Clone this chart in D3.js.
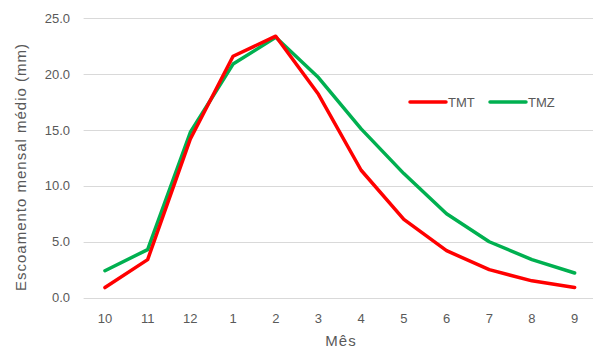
<!DOCTYPE html>
<html><head><meta charset="utf-8">
<script src="https://cdn.jsdelivr.net/npm/d3@7"></script>
<style>body{margin:0;background:#fff}svg{display:block}</style>
</head><body>
<script>
const months = ["10","11","12","1","2","3","4","5","6","7","8","9"];
const tmt = [0.9, 3.4, 14.2, 21.6, 23.4, 18.2, 11.4, 7.0, 4.2, 2.5, 1.5, 0.9];
const tmz = [2.4, 4.3, 14.8, 20.9, 23.3, 19.7, 15.1, 11.1, 7.5, 5.0, 3.4, 2.2];
const yTicks = [0, 5, 10, 15, 20, 25];
const seriesNames = ["TMT", "TMZ"];
const seriesColors = ["#ff0000", "#00b050"];

const W = 593, H = 351;
const font = "'Liberation Sans', Arial, sans-serif";
const svg = d3.select("body").append("svg").attr("width", W).attr("height", H);

const x = d3.scaleBand().domain(months).range([83.6, 596]);
const y = d3.scaleLinear().domain([0, 25]).range([297.6, 18.3]);

// grid
svg.append("g").selectAll("line").data(yTicks).join("line")
  .attr("x1", 83.6).attr("x2", W).attr("y1", d => Math.round(y(d)) + 0.5).attr("y2", d => Math.round(y(d)) + 0.5)
  .attr("stroke", "#d9d9d9").attr("stroke-width", 1);

// y labels
svg.append("g").selectAll("text").data(yTicks).join("text")
  .attr("x", 70).attr("y", d => y(d)).attr("dy", "0.35em").attr("text-anchor", "end")
  .attr("font-family", font).attr("font-size", 13).attr("fill", "#595959")
  .text(d => d3.format(".1f")(d));

// x labels
svg.append("g").selectAll("text").data(months).join("text")
  .attr("x", d => x(d) + x.bandwidth() / 2).attr("y", 318).attr("dy", "0.35em").attr("text-anchor", "middle")
  .attr("font-family", font).attr("font-size", 13).attr("fill", "#595959")
  .text(d => d);

// axis titles
svg.append("text").attr("x", 341).attr("y", 341).attr("dy", "0.35em").attr("text-anchor", "middle")
  .attr("font-family", font).attr("font-size", 15).attr("letter-spacing", 1).attr("fill", "#595959").text("Mês");
svg.append("text").attr("transform", "translate(21,167) rotate(-90)").attr("dy", "0.35em").attr("text-anchor", "middle")
  .attr("font-family", font).attr("font-size", 15).attr("letter-spacing", 1).attr("fill", "#595959").text("Escoamento mensal médio (mm)");

// lines
const line = d3.line().x((d, i) => x(months[i]) + x.bandwidth() / 2).y(d => y(d));
[tmz, tmt].forEach((s, k) => {
  const idx = k === 0 ? 1 : 0;
  svg.append("path").datum(s).attr("d", line).attr("fill", "none")
    .attr("stroke", seriesColors[idx]).attr("stroke-width", 3.5)
    .attr("stroke-linejoin", "round").attr("stroke-linecap", "round");
});

// legend
const legX = [410, 490];
seriesNames.forEach((n, i) => {
  svg.append("line").attr("x1", legX[i]).attr("x2", legX[i] + 36).attr("y1", 102).attr("y2", 102)
    .attr("stroke", seriesColors[i]).attr("stroke-width", 3.5).attr("stroke-linecap", "round");
  svg.append("text").attr("x", legX[i] + 38).attr("y", 102).attr("dy", "0.35em")
    .attr("font-family", font).attr("font-size", 13).attr("fill", "#595959").text(n);
});
</script>
</body></html>
